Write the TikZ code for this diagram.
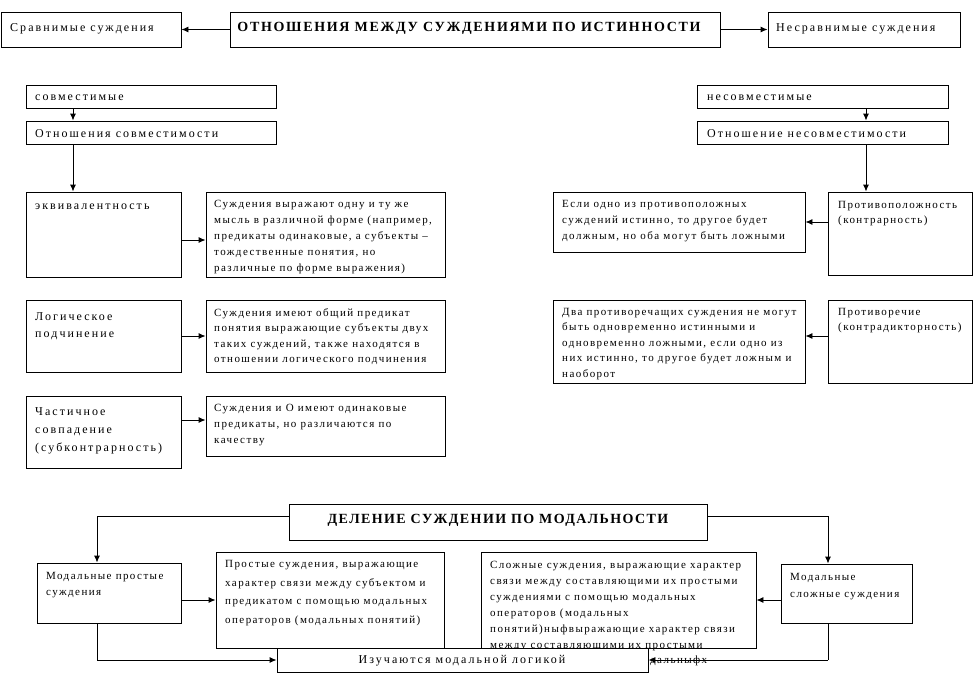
\documentclass[tikz,border=0pt]{standalone}
\usepackage{fontspec}
\setmainfont{Liberation Serif}
\newfontfamily\spA[LetterSpace=13]{Liberation Serif}
\newfontfamily\spB[LetterSpace=17]{Liberation Serif}
\usetikzlibrary{fit,arrows.meta}
\tikzset{
  box/.style={draw, line width=0.9pt, inner sep=0pt, fill=white},
  arr/.style={line width=0.9pt, -{Latex[length=7pt,width=6pt]}},
  ln/.style={line width=0.9pt},
  small/.style={anchor=north west, inner sep=0pt, align=left, font=\spA\fontsize{11}{16}\selectfont},
  mid/.style={anchor=north west, inner sep=0pt, align=left, font=\spB\fontsize{12}{18}\selectfont},
  ttl/.style={inner sep=0pt, font={\bfseries\fontsize{14}{16}\selectfont\addfontfeature{LetterSpace=12}}}
}
\begin{document}
\begin{tikzpicture}[x=1pt,y=-1pt]
\useasboundingbox (0,0) rectangle (974,697);
% top row
\node[box, fit={(1,12) (181,47)}] (sr) {};
\node[box, fit={(230,12) (720,47)}] (title) {};
\node[box, fit={(768,12) (960,47)}] (nesr) {};
\node[mid, anchor=west] (srt) at (10,29) {Сравнимые суждения};
\node[ttl] (titlet) at (469,28) {ОТНОШЕНИЯ МЕЖДУ СУЖДЕНИЯМИ ПО ИСТИННОСТИ};
\node[mid, anchor=west] (nesrt) at (776,29) {Несравнимые суждения};
\draw[arr] (title.west) -- (sr.east);
\draw[arr] (title.east) -- (nesr.east -| nesr.west);

% left column
\node[box, fit={(26,85) (276,108)}] (sovm) {};
\node[mid, anchor=west] (sovmt) at (35,98) {совместимые};
\node[box, fit={(26,121) (276,144)}] (otnS) {};
\node[mid, anchor=west] (otnSt) at (35,134) {Отношения совместимости};
\node[box, fit={(26,192) (181,277)}] (ekv) {};
\node[mid] (ekvt) at (35,204) {эквивалентность};
\node[box, fit={(206,192) (445,277)}] (ekvT) {};
\node[small] (ekvTt) at (214,200) {Суждения выражают одну и ту же\\мысль в различной форме (например,\\предикаты одинаковые, а субъекты –\\тождественные понятия, но\\различные по форме выражения)};
\node[box, fit={(26,300) (181,372)}] (log) {};
\node[mid, font=\spB\fontsize{12}{17.5}\selectfont] (logt) at (35,312) {Логическое\\подчинение};
\node[box, fit={(206,300) (445,372)}] (logT) {};
\node[small, font=\spA\fontsize{11}{15.5}\selectfont] (logTt) at (214,308) {Суждения имеют общий предикат\\понятия выражающие субъекты двух\\таких  суждений, также находятся в\\отношении логического подчинения};
\node[box, fit={(26,396) (181,468)}] (chast) {};
\node[mid] (chastt) at (35,407) {Частичное\\совпадение\\(субконтрарность)};
\node[box, fit={(206,396) (445,456)}] (chastT) {};
\node[small] (chastTt) at (214,404) {Суждения и О имеют одинаковые\\предикаты, но различаются по\\качеству};

\draw[arr] (sovm.south -| 73,0) -- (otnS.north -| 73,0);
\draw[arr] (otnS.south -| 73,0) -- (ekv.north -| 73,0);
\draw[arr] (ekv.east |- 0,240) -- (ekvT.west |- 0,240);
\draw[arr] (log.east |- 0,336) -- (logT.west |- 0,336);
\draw[arr] (chast.east |- 0,420) -- (chastT.west |- 0,420);

% right column
\node[box, fit={(697,85) (948,108)}] (nesov) {};
\node[mid, anchor=west] (nesovt) at (707,98) {несовместимые};
\node[box, fit={(697,121) (948,144)}] (otnN) {};
\node[mid, anchor=west] (otnNt) at (707,134) {Отношение несовместимости};
\node[box, fit={(828,192) (972,275)}] (protiv) {};
\node[small, font=\spA\fontsize{11}{15}\selectfont] (protivt) at (838,201) {Противоположность\\(контрарность)};
\node[box, fit={(553,192) (805,252)}] (protivT) {};
\node[small] (protivTt) at (562,200) {Если одно из противоположных\\суждений истинно, то другое будет\\должным, но оба могут быть ложными};
\node[box, fit={(828,300) (972,383)}] (protivor) {};
\node[small, font=\spA\fontsize{11}{15}\selectfont] (protivort) at (838,308) {Противоречие\\(контрадикторность)};
\node[box, fit={(553,300) (805,383)}] (protivorT) {};
\node[small, font=\spA\fontsize{11}{15.5}\selectfont] (protivorTt) at (562,308) {Два противоречащих  суждения не могут\\быть одновременно истинными и\\одновременно ложными, если одно из\\них истинно, то другое будет ложным и\\наоборот};

\draw[arr] (nesov.south -| 866,0) -- (otnN.north -| 866,0);
\draw[arr] (otnN.south -| 866,0) -- (protiv.north -| 866,0);
\draw[arr] (protiv.west |- 0,222) -- (protivT.east |- 0,222);
\draw[arr] (protivor.west |- 0,336) -- (protivorT.east |- 0,336);

% bottom
\node[box, fit={(289,504) (707,540)}] (del) {};
\node[ttl, font={\bfseries\fontsize{14}{16}\selectfont\addfontfeature{LetterSpace=10}}] (delt) at (498,520) {ДЕЛЕНИЕ СУЖДЕНИИ ПО МОДАЛЬНОСТИ};
\node[box, fit={(37,563) (181,623)}] (modP) {};
\node[small] (modPt) at (46,572) {Модальные простые\\суждения};
\node[box, fit={(216,552) (444,648)}] (prostT) {};
\node[small, font=\spA\fontsize{11}{18.7}\selectfont] (prostTt) at (225,560) {Простые суждения, выражающие\\характер связи между субъектом и\\предикатом с помощью модальных\\операторов (модальных понятий)};
\node[box, fit={(481,552) (756,648)}] (slozhT) {};
\node[small, font=\spA\fontsize{11}{16}\selectfont] (slozhTt) at (490,561) {Сложные суждения, выражающие характер\\связи между составляющими их простыми\\суждениями с помощью модальных\\операторов (модальных\\понятий)ныфвыражающие характер связи\\между составляющими их простыми};
\node[small, anchor=west] (slozhTx) at (650,661) {дальныфх};
\node[box, fit={(781,564) (912,623)}] (modS) {};
\node[small, font=\spA\fontsize{11}{17}\selectfont] (modSt) at (790,573) {Модальные\\сложные суждения};
\node[box, fit={(277,648) (648,672)}] (izuch) {};
\node[mid, anchor=center] (izucht) at (462,661) {Изучаются модальной логикой};

\coordinate (dl) at (del.west |- 0,516);
\coordinate (dr) at (del.east |- 0,516);
\draw[ln] (dl) -- (97,516);
\draw[arr] (97,516) -- (modP.north -| 97,0);
\draw[ln] (dr) -- (828,516);
\draw[arr] (828,516) -- (modS.north -| 828,0);
\draw[arr] (modP.east |- 0,600) -- (prostT.west |- 0,600);
\draw[arr] (modS.west |- 0,600) -- (slozhT.east |- 0,600);
\draw[ln] (modP.south -| 97,0) -- (97,660);
\draw[arr] (97,660) -- (izuch.west |- 0,660);
\draw[ln] (modS.south -| 828,0) -- (828,660);
\draw[arr] (828,660) -- (izuch.east |- 0,660);
\end{tikzpicture}
\end{document}
